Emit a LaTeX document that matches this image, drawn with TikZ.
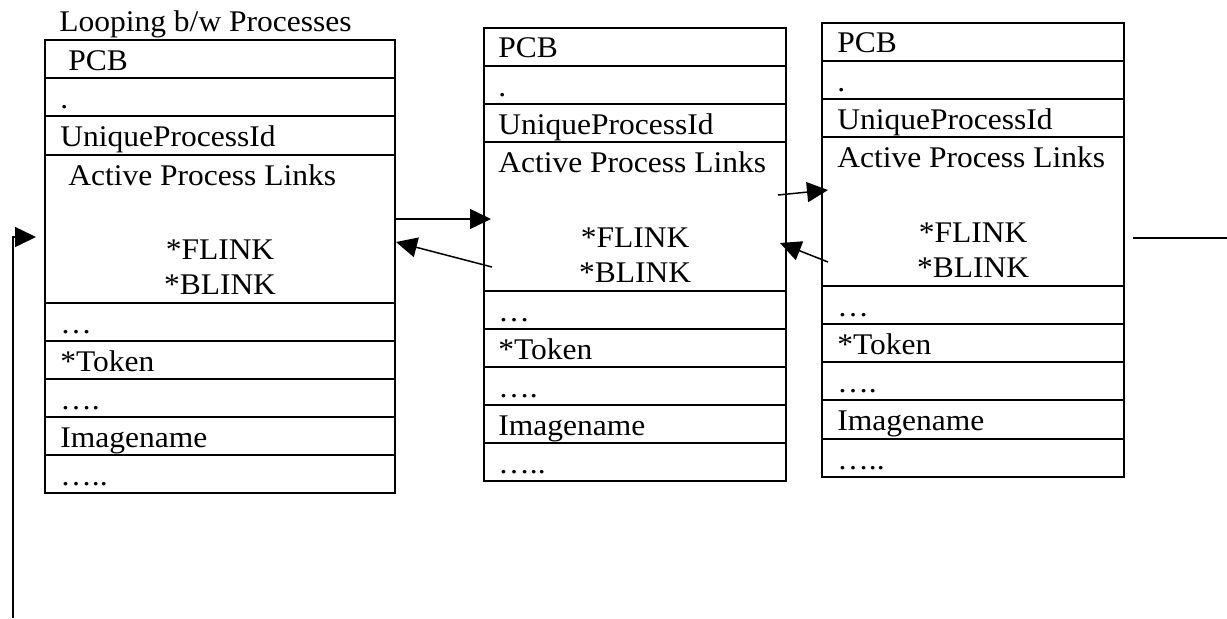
\documentclass[tikz,border=0pt]{standalone}
\usepackage{fontspec}
\setmainfont{Liberation Serif}[FakeStretch=1.05]
\usetikzlibrary{arrows.meta}
\begin{document}
\begin{tikzpicture}[x=0.5pt,y=-0.5pt,
  txt/.style={anchor=base west,inner sep=0pt,font=\fontsize{15}{18}\selectfont},
  ctxt/.style={anchor=base,inner sep=0pt,font=\fontsize{15}{18}\selectfont},
  frame/.style={line width=1pt},
  link/.style={line width=0.75pt,-{Triangle[length=10.5pt,width=10pt]}},
  plain/.style={line width=0.75pt}]
\useasboundingbox (0,0) rectangle (1227,618);
\node[txt] (title) at (59,31) {Looping b/w Processes};
% ---- Box 1
\draw[frame] (45,40) rectangle (395,493);
\foreach \y in {78,116,155,303,341,379,417,455} \draw[frame] (45,\y) -- (395,\y);
\node[txt] (b1pcb) at (68,70) {PCB};
\node[txt] (b1d1) at (60,108) {.};
\node[txt] (b1id) at (60,146) {UniqueProcessId};
\node[txt] (b1apl) at (68,185) {Active Process Links};
\node[ctxt] (b1f) at (220,259) {*FLINK};
\node[ctxt] (b1b) at (220,294) {*BLINK};
\node[txt] (b1d2) at (60,333) {…};
\node[txt] (b1tok) at (60,371) {*Token};
\node[txt] (b1d3) at (60,409) {….};
\node[txt] (b1img) at (60,447) {Imagename};
\node[txt] (b1d4) at (60,485) {…..};
% ---- Box 2
\draw[frame] (484,28) rectangle (786,481);
\foreach \y in {66,104,142,291,329,367,405,443} \draw[frame] (484,\y) -- (786,\y);
\node[txt] (b2pcb) at (498,57) {PCB};
\node[txt] (b2d1) at (498,96) {.};
\node[txt] (b2id) at (498,134) {UniqueProcessId};
\node[txt] (b2apl) at (498,172) {Active Process Links};
\node[ctxt] (b2f) at (635,247) {*FLINK};
\node[ctxt] (b2b) at (635,282) {*BLINK};
\node[txt] (b2d2) at (498,321) {…};
\node[txt] (b2tok) at (498,359) {*Token};
\node[txt] (b2d3) at (498,397) {….};
\node[txt] (b2img) at (498,435) {Imagename};
\node[txt] (b2d4) at (498,473) {…..};
% ---- Box 3
\draw[frame] (822,23) rectangle (1124,477);
\foreach \y in {61,99,137,286,324,362,400,439} \draw[frame] (822,\y) -- (1124,\y);
\node[txt] (b3pcb) at (837,52) {PCB};
\node[txt] (b3d1) at (837,91) {.};
\node[txt] (b3id) at (837,129) {UniqueProcessId};
\node[txt] (b3apl) at (837,167) {Active Process Links};
\node[ctxt] (b3f) at (973,242) {*FLINK};
\node[ctxt] (b3b) at (973,277) {*BLINK};
\node[txt] (b3d2) at (837,316) {…};
\node[txt] (b3tok) at (837,354) {*Token};
\node[txt] (b3d3) at (837,392) {….};
\node[txt] (b3img) at (837,430) {Imagename};
\node[txt] (b3d4) at (837,469) {…..};
% ---- link points
\coordinate (f12s) at (395,219);
\coordinate (f12e) at (491,219);
\coordinate (b21s) at (492,267);
\coordinate (b21e) at (396,242);
\coordinate (f23s) at (778,195);
\coordinate (f23e) at (828,190);
\coordinate (b32s) at (828,262);
\coordinate (b32e) at (780,243);
\coordinate (loopbot) at (13,618);
\coordinate (loopcorner) at (13,237);
\coordinate (loopend) at (36,237);
\coordinate (outs) at (1133,238);
\coordinate (oute) at (1227,238);
\draw[link] (f12s) -- (f12e);
\draw[link] (b21s) -- (b21e);
\draw[link] (f23s) -- (f23e);
\draw[link] (b32s) -- (b32e);
\draw[link] (loopbot) -- (loopcorner) -- (loopend);
\draw[plain] (outs) -- (oute);
\end{tikzpicture}
\end{document}
